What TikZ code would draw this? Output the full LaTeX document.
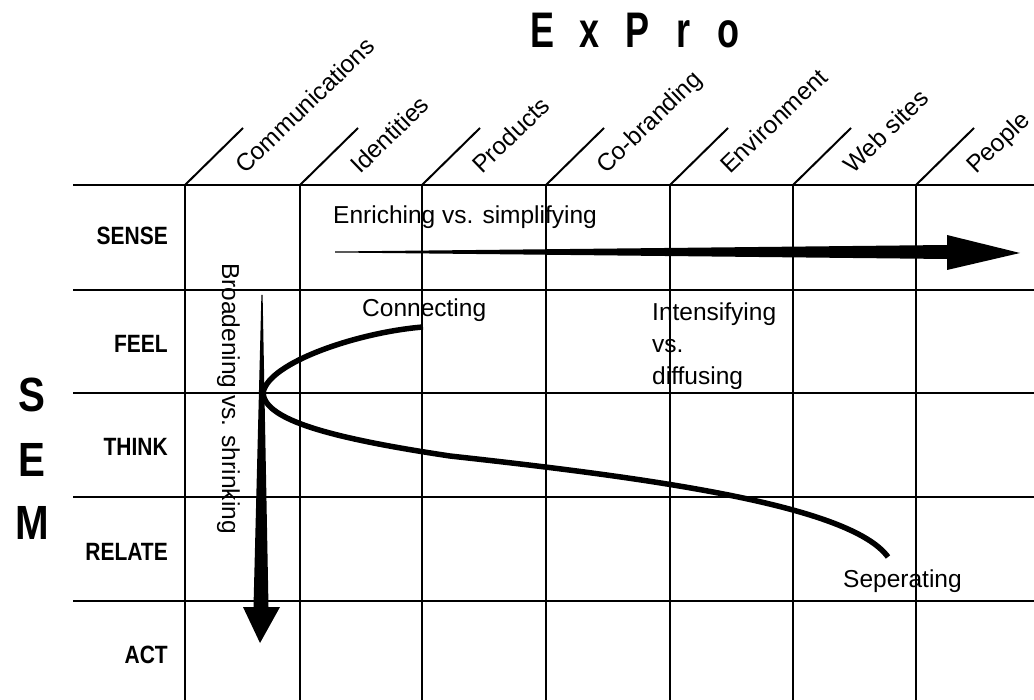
\documentclass[tikz,border=0pt]{standalone}
\usepackage{fontspec}
\setmainfont{Liberation Sans}
\newfontfamily\condfont[FakeStretch=0.84]{Liberation Sans}
\newfontfamily\titlefont[FakeStretch=0.72]{Liberation Sans}
\usepackage{tikz}
\usetikzlibrary{positioning}

\begin{document}
\begin{tikzpicture}[x=1pt,y=-1pt,every text node part/.style={align=left},
  gridline/.style={line width=2.5pt},
  colrule/.style={line width=2pt},
  rowlabel/.style={anchor=east,inner sep=0pt,font=\condfont\bfseries\fontsize{25}{30}\selectfont},
  semletter/.style={inner sep=0pt,font=\condfont\bfseries\fontsize{48}{50}\selectfont},
  collabel/.style={anchor=base west,inner sep=0pt,rotate=44,font=\fontsize{24.5}{30}\selectfont},
  notetext/.style={anchor=base west,inner sep=0pt,font=\fontsize{24.5}{32}\selectfont}]
  \useasboundingbox (0,0) rectangle (1034,700);

  % title
  \foreach \x/\l in {543/E,590/x,638/P,683/r,728/o}
    \node[anchor=base,inner sep=0pt,font=\titlefont\bfseries\fontsize{50}{55}\selectfont] (t\l) at (\x,48) {\l};

  % table
  \foreach \y in {185,290,393,497,601}
    \draw[gridline] (73,\y) -- (1034,\y);
  \foreach \x/\lab in {185/Communications,300/Identities,422/Products,546/Co-branding,670/Environment,793/Web sites,916/People}{
    \draw[gridline] (\x,185) -- (\x,700);
    \draw[colrule] (\x,185) -- ++(58,-57);
    \node[collabel] at (\x+60,175) {\lab};
  }

  % rows
  \node[semletter] (s) at (32,395) {S};
  \node[semletter] (e) at (32,460) {E};
  \node[semletter] (m) at (32,523) {M};
  \node[rowlabel] (sense) at (168,236) {SENSE};
  \node[rowlabel] (feel) at (168,344) {FEEL};
  \node[rowlabel] (think) at (168,447) {THINK};
  \node[rowlabel] (relate) at (168,552) {RELATE};
  \node[rowlabel] (act) at (168,655) {ACT};

  % texts in the cells
  \node[notetext] (enrich) at (333,224) {Enriching vs. simplifying};
  \node[notetext] (connect) at (362,317) {Connecting};
  \node[notetext,anchor=north west] (intens) at (652,303) {Intensifying\\vs.\\diffusing};
  \node[notetext] (seper) at (843,587) {Seperating};
  \node[notetext,rotate=-90] (broad) at (222,263) {Broadening vs. shrinking};

  % arrows
  \coordinate (enrS) at (335,252);
  \coordinate (enrB) at (947,252);
  \coordinate (enrE) at (1020,253);
  \fill ([yshift=0.5pt]enrS) -- ([yshift=7pt]enrB) -- ([yshift=17pt]enrB) -- (enrE)
    -- ([yshift=-18pt]enrB) -- ([yshift=-7pt]enrB) -- ([yshift=-0.5pt]enrS) -- cycle;
  \coordinate (brdS) at (262,295);
  \coordinate (brdB) at (261,607);
  \coordinate (brdE) at (260,643);
  \fill ([xshift=-0.6pt]brdS) -- ([xshift=-7.5pt]brdB) -- ([xshift=-18pt]brdB) -- (brdE)
    -- ([xshift=19pt]brdB) -- ([xshift=7.5pt]brdB) -- ([xshift=0.6pt]brdS) -- cycle;

  % curve
  \coordinate (cA) at (423,327);
  \coordinate (cV) at (263,393);
  \coordinate (cM) at (450,456);
  \coordinate (cB) at (888,557);
  \draw[line width=5.5pt] (cA) .. controls (360,332) and (268,362) .. (cV)
    .. controls (265,420) and (330,438) .. (cM)
    .. controls (650,478) and (850,505) .. (cB);
\end{tikzpicture}
\end{document}
